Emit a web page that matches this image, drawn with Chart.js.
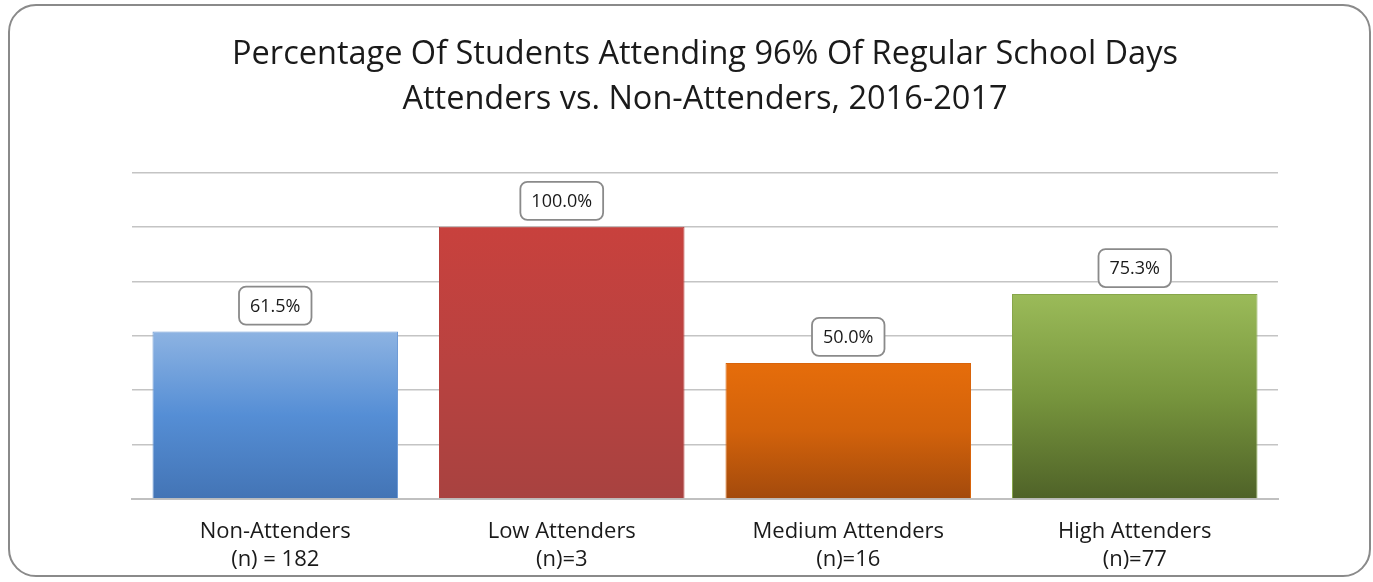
<!DOCTYPE html>
<html>
<head>
<meta charset="utf-8">
<script src="https://cdn.jsdelivr.net/npm/chart.js@4"></script>
<style>
  html, body { margin: 0; padding: 0; background: #fff; }
  #frame {
    position: absolute; left: 8px; top: 4px;
    width: 1359px; height: 569px;
    border: 2px solid #8a8a8a; border-radius: 28px;
    overflow: hidden;
  }
  #chart { display: block; }
</style>
</head>
<body>
<div id="frame"><canvas id="chart" width="1359" height="569"></canvas></div>
<script>
const categories = [
    ["Non-Attenders", "(n) = 182"],
    ["Low Attenders", "(n)=3"],
    ["Medium Attenders", "(n)=16"],
    ["High Attenders", "(n)=77"]
];
const percentAttending = [61.5, 100.0, 50.0, 75.3];
const titleLines = [
    "Percentage Of Students Attending 96% Of Regular School Days",
    "Attenders vs. Non-Attenders, 2016-2017"
];
// top, middle, bottom of each bar's gradient
const barColors = [
    ["#8db3e2", "#558ed5", "#4374b5"],
    ["#c8413d", "#b94240", "#a84240"],
    ["#e66d0b", "#d2620b", "#a34a0c"],
    ["#9bbb59", "#77953d", "#4f6228"]
];
const borderColors = ["#6f9bd6", "#b8403c", "#d8640b", "#87a64a"];

const FONT = "'Open Sans', 'Noto Sans', sans-serif";

function barGradient(context) {
    const chart = context.chart;
    const area = chart.chartArea;
    const c = barColors[context.dataIndex];
    if (!area) return c[0];
    const y = chart.scales.y;
    const top = y.getPixelForValue(percentAttending[context.dataIndex]);
    const bottom = y.getPixelForValue(0);
    const g = chart.ctx.createLinearGradient(0, top, 0, bottom);
    g.addColorStop(0, c[0]);
    g.addColorStop(0.5, c[1]);
    g.addColorStop(1, c[2]);
    return g;
}

// boxed value labels above each bar
const boxLabels = {
    id: "boxLabels",
    afterDatasetsDraw(chart) {
        const ctx = chart.ctx;
        const meta = chart.getDatasetMeta(0);
        ctx.save();
        ctx.font = "18px " + FONT;
        ctx.textAlign = "center";
        ctx.textBaseline = "middle";
        meta.data.forEach((bar, i) => {
            const text = percentAttending[i].toFixed(1) + "%";
            const w = ctx.measureText(text).width + 22;
            const h = 38;
            const x = bar.x - w / 2;
            const y = bar.y - 7 - h;
            ctx.beginPath();
            ctx.roundRect(x, y, w, h, 7);
            ctx.fillStyle = "#ffffff";
            ctx.fill();
            ctx.lineWidth = 1.8;
            ctx.strokeStyle = "#8a8a8a";
            ctx.stroke();
            ctx.fillStyle = "#1a1a1a";
            ctx.fillText(text, bar.x, y + h / 2 + 1);
        });
        ctx.restore();
    }
};

new Chart(document.getElementById("chart"), {
    type: "bar",
    data: {
        labels: categories,
        datasets: [{
            data: percentAttending,
            backgroundColor: barGradient,
            borderColor: borderColors,
            borderWidth: 1,
            categoryPercentage: 1.0,
            barPercentage: 0.857
        }]
    },
    options: {
        responsive: false,
        animation: false,
        layout: { padding: { left: 122, right: 91, top: 12, bottom: -9 } },
        plugins: {
            legend: { display: false },
            tooltip: { enabled: false },
            title: {
                display: true,
                text: titleLines,
                color: "#1a1a1a",
                font: { family: FONT, size: 32.5, weight: "normal", lineHeight: 1.36 },
                padding: { top: 15, bottom: 51 }
            }
        },
        scales: {
            x: {
                grid: { display: false },
                border: { display: true, color: "#c0c0c0", width: 2 },
                ticks: {
                    color: "#1a1a1a",
                    font: { family: FONT, size: 22, lineHeight: 1.25 },
                    padding: 11,
                    maxRotation: 0
                }
            },
            y: {
                min: 0,
                max: 120,
                ticks: { stepSize: 20, display: false },
                border: { display: false },
                grid: { color: "#c4c4c4", lineWidth: 1.5, drawTicks: false }
            }
        }
    },
    plugins: [boxLabels]
});
</script>
</body>
</html>
